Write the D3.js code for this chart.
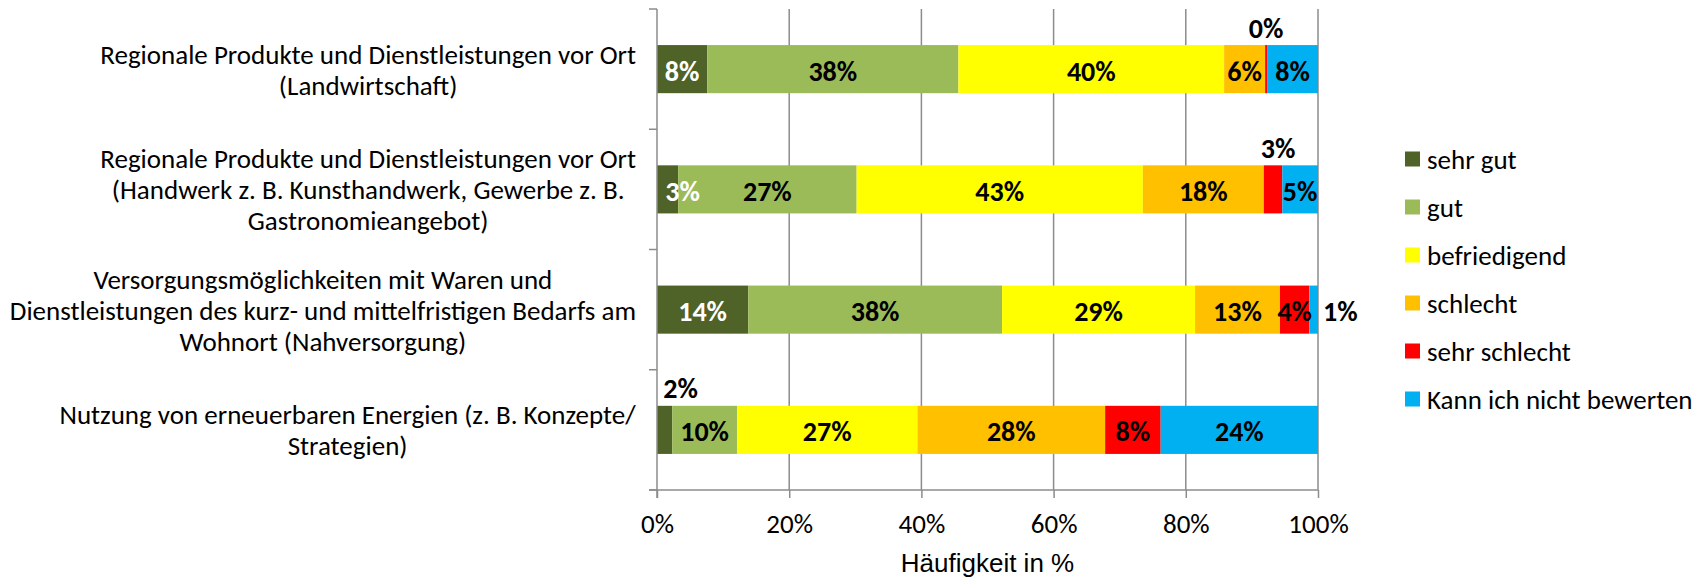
<!DOCTYPE html>
<html>
<head>
<meta charset="utf-8">
<script src="https://cdn.jsdelivr.net/npm/d3@7"></script>
<style>
  body { margin: 0; background: #fff; }
  svg { display: block; font-family: Carlito, Lato, sans-serif; }
</style>
</head>
<body>
<svg id="chart" width="1705" height="578"></svg>
<script>
// categories (wrapped the same way as the original)
var categories = ["landwirtschaft", "handwerk", "nahversorgung", "energien"];
var categoryLines = [
  ["Regionale Produkte und Dienstleistungen vor Ort", "(Landwirtschaft)"],
  ["Regionale Produkte und Dienstleistungen vor Ort", "(Handwerk z. B. Kunsthandwerk, Gewerbe z. B.", "Gastronomieangebot)"],
  ["Versorgungsmöglichkeiten mit Waren und", "Dienstleistungen des kurz- und mittelfristigen Bedarfs am", "Wohnort (Nahversorgung)"],
  ["Nutzung von erneuerbaren Energien (z. B. Konzepte/", "Strategien)"]
];

var seriesNames = ["sehr gut", "gut", "befriedigend", "schlecht", "sehr schlecht", "Kann ich nicht bewerten"];
var seriesColors = ["#4f6228", "#9bbb59", "#ffff00", "#ffc000", "#ff0000", "#00b0f0"];

// percent values per series, one per category
var sehrGut      = [7.6, 3.2, 13.8, 2.3];
var gut          = [38.0, 27.0, 38.4, 9.8];
var befriedigend = [40.2, 43.3, 29.2, 27.3];
var schlecht     = [6.2, 18.3, 12.85, 28.4];
var sehrSchlecht = [0.3, 2.8, 4.45, 8.4];
var kannNicht    = [7.7, 5.4, 1.3, 23.8];

var xTicks = [0, 20, 40, 60, 80, 100];
var xTitle = "Häufigkeit in %";

var seriesValues = [sehrGut, gut, befriedigend, schlecht, sehrSchlecht, kannNicht];

// labels that were moved by hand in the original (series index, category index)
var labelMoves = {
  "4-0": {pos: "above"},
  "4-1": {pos: "above", dx: 5},
  "5-2": {pos: "right"},
  "0-3": {pos: "above", dx: 16},
  "0-1": {dx: 15}
};

var fontSize = 27;
var svg = d3.select("#chart");
var plotLeft = 657, plotRight = 1318, plotTop = 9, plotBottom = 490;

var x = d3.scaleLinear().domain([0, 100]).range([plotLeft, plotRight]);
var y = d3.scaleBand().domain(categories).range([plotTop, plotBottom])
  .paddingInner(0.6).paddingOuter(0.3);

var gridColor = "#8c8c8c";

// vertical gridlines
svg.append("g").selectAll("line")
  .data(xTicks.slice(1))
  .enter().append("line")
  .attr("x1", function (d) { return x(d); })
  .attr("x2", function (d) { return x(d); })
  .attr("y1", plotTop).attr("y2", plotBottom)
  .attr("stroke", gridColor).attr("stroke-width", 1.5);

// stacked rows
var rows = categories.map(function (c, ci) {
  var acc = 0;
  return seriesValues.map(function (vals, si) {
    var seg = {cat: c, ci: ci, si: si, v: vals[ci], x0: acc, x1: acc + vals[ci]};
    acc += vals[ci];
    return seg;
  });
});
var segments = [].concat.apply([], rows);

svg.append("g").selectAll("rect")
  .data(segments)
  .enter().append("rect")
  .attr("x", function (d) { return x(d.x0); })
  .attr("width", function (d) { return x(d.x1) - x(d.x0); })
  .attr("y", function (d) { return y(d.cat); })
  .attr("height", y.bandwidth())
  .attr("fill", function (d) { return seriesColors[d.si]; });

// data labels
svg.append("g").selectAll("text")
  .data(segments)
  .enter().append("text")
  .attr("font-size", 28)
  .attr("font-weight", "bold")
  .attr("dominant-baseline", "central")
  .attr("fill", function (d) {
    var m = labelMoves[d.si + "-" + d.ci];
    if (d.si === 0 && !(m && m.pos === "above")) return "#fff";
    return "#000";
  })
  .attr("text-anchor", function (d) {
    var m = labelMoves[d.si + "-" + d.ci];
    return (m && m.pos === "right") ? "start" : "middle";
  })
  .attr("x", function (d) {
    var m = labelMoves[d.si + "-" + d.ci] || {};
    if (m.pos === "right") return x(d.x1) + 5;
    return (x(d.x0) + x(d.x1)) / 2 + (m.dx || 0);
  })
  .attr("y", function (d) {
    var m = labelMoves[d.si + "-" + d.ci] || {};
    if (m.pos === "above") return y(d.cat) - 17;
    return y(d.cat) + y.bandwidth() / 2 + 2;
  })
  .text(function (d) { return Math.round(d.v) + "%"; });

// left axis line with ticks between categories
var axis = svg.append("g").attr("stroke", gridColor).attr("stroke-width", 1.5);
axis.append("line").attr("x1", plotLeft).attr("x2", plotLeft).attr("y1", plotTop).attr("y2", plotBottom + 8);
d3.range(categories.length + 1).forEach(function (i) {
  var yy = plotTop + i * y.step();
  axis.append("line").attr("x1", plotLeft - 8).attr("x2", plotLeft).attr("y1", yy).attr("y2", yy);
});

// bottom axis
var xAxis = svg.append("g")
  .attr("transform", "translate(0," + plotBottom + ")")
  .call(d3.axisBottom(x).tickValues(xTicks).tickFormat(function (d) { return d + "%"; })
    .tickSize(8).tickSizeOuter(0));
xAxis.select(".domain").remove();
xAxis.append("line").attr("x1", plotLeft - 8).attr("x2", plotRight).attr("y1", 0).attr("y2", 0)
  .attr("stroke", gridColor).attr("stroke-width", 1.5);
xAxis.selectAll(".tick line").attr("stroke", gridColor).attr("stroke-width", 1.5);
xAxis.selectAll(".tick text")
  .attr("y", 33).attr("dy", null)
  .attr("dominant-baseline", "central")
  .attr("font-size", fontSize).attr("font-family", "Carlito, Lato, sans-serif").attr("fill", "#000");

svg.append("text")
  .attr("x", (plotLeft + plotRight) / 2).attr("y", 563)
  .attr("text-anchor", "middle").attr("dominant-baseline", "central")
  .attr("font-family", "'Liberation Sans', Arial, sans-serif")
  .attr("font-size", 26)
  .text(xTitle);

// category labels, centred block ending left of the axis
var lineH = 31;
var catG = svg.append("g").attr("font-size", fontSize);
categories.forEach(function (c, i) {
  var lines = categoryLines[i];
  var t = catG.append("text").attr("text-anchor", "middle").attr("dominant-baseline", "central");
  var cy = y(c) + y.bandwidth() / 2 - (lines.length - 1) * lineH / 2;
  lines.forEach(function (ln, j) {
    t.append("tspan").attr("x", 0).attr("y", cy + j * lineH).text(ln);
  });
  var w = t.node().getBBox().width;
  t.selectAll("tspan").attr("x", 636 - w / 2);
});

// legend
var legend = svg.append("g").attr("font-size", fontSize);
seriesNames.forEach(function (name, i) {
  var ly = 159 + i * 48;
  legend.append("rect").attr("x", 1405).attr("y", ly - 7.5).attr("width", 15).attr("height", 15)
    .attr("fill", seriesColors[i]);
  legend.append("text").attr("x", 1427).attr("y", ly).attr("dominant-baseline", "central").text(name);
});
</script>
</body>
</html>
